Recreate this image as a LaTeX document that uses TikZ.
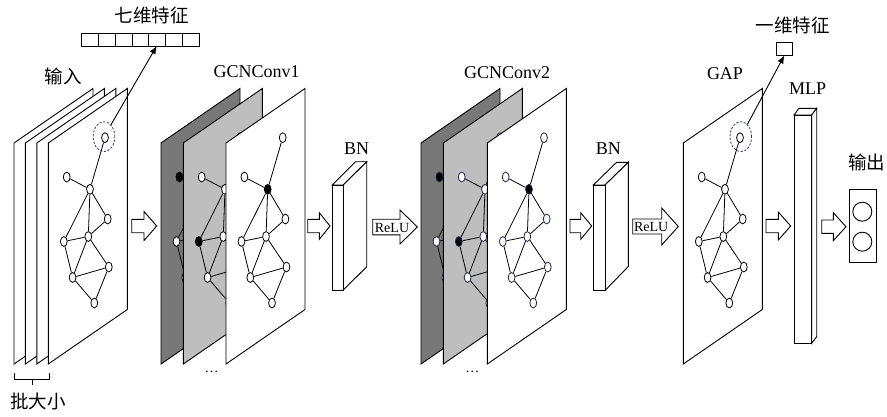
\documentclass[tikz,border=0pt]{standalone}
\usepackage{fontspec}
\setmainfont{Liberation Serif}
\newfontfamily\cjk{Noto Sans CJK SC}
\usetikzlibrary{shapes.geometric,arrows.meta}
\definecolor{darkpg}{RGB}{120,120,120}
\definecolor{lightpg}{RGB}{190,190,190}
\definecolor{navyc}{RGB}{55,55,110}
\definecolor{navyn}{RGB}{35,35,75}
\tikzset{
 pg/.style={draw=black,line width=0.9pt,line join=miter},
 gnode/.style={draw=black,fill=white,ellipse,minimum width=6.8pt,minimum height=9.8pt,inner sep=0pt,line width=0.8pt},
 gedge/.style={line width=0.8pt},
 hl/.code args={#1/#2}{\def\tmpa{#1}\def\tmpb{#2}\ifx\tmpa\tmpb\pgfkeysalso{fill=black}\fi},
 lbl/.style={font=\fontsize{18}{20}\selectfont,inner sep=0pt},
 cjklbl/.style={font=\fontsize{18.5}{20}\selectfont\cjk,inner sep=0pt},
 small/.style={font=\fontsize{14}{14}\selectfont,inner sep=0pt},
 barr/.style={draw=black,fill=white,line width=0.9pt,line join=miter},
 boxl/.style={draw=black,fill=white,line width=0.9pt,line join=miter},
 sel/.style={draw=navyc,dash pattern=on 2.2pt off 1.6pt,ellipse,minimum width=21.6pt,minimum height=30pt,inner sep=0pt,line width=0.8pt},
 cell/.style={draw,minimum width=16.76pt,minimum height=12.7pt,inner sep=0pt,line width=0.8pt},
 ptr/.style={line width=0.9pt,-{Latex[length=8pt,width=6.5pt]}},
}
\newcommand{\gpage}[2]{\path[pg,fill=#2] (#1,143) -- (#1+79,88.5) -- (#1+79,309.5) -- (#1,364) -- cycle;}
\newcommand{\ggraph}[4]{%
 \begin{scope}[shift={(#2,#3)}]
  \node[gnode,hl=a/#4] (#1a) at (56.7,-5.3) {};
  \node[gnode,hl=b/#4] (#1b) at (18.4,34) {};
  \node[gnode,hl=c/#4] (#1c) at (41.7,46.3) {};
  \node[gnode,hl=d/#4] (#1d) at (59.4,76) {};
  \node[gnode,hl=e/#4] (#1e) at (15.5,98.5) {};
  \node[gnode,hl=f/#4] (#1f) at (40,93.5) {};
  \node[gnode,hl=g/#4] (#1g) at (60.5,124) {};
  \node[gnode,hl=h/#4] (#1h) at (24.3,134.5) {};
  \node[gnode,hl=i/#4] (#1i) at (46,160) {};
  \draw[gedge] (#1a) -- (#1c) (#1b) -- (#1c) (#1c) -- (#1e) (#1c) -- (#1f) (#1c) -- (#1d)
   (#1d) -- (#1f) (#1e) -- (#1f) (#1e) -- (#1h) (#1f) -- (#1h) (#1f) -- (#1g)
   (#1h) -- (#1g) (#1h) -- (#1i) (#1g) -- (#1i);
 \end{scope}}
\newcommand{\barrow}[6]{\path[barr] (#1,#3-#4) -- (#6,#3-#4) -- (#6,#3-#5) -- (#2,#3) -- (#6,#3+#5) -- (#6,#3+#4) -- (#1,#3+#4) -- cycle;}
\begin{document}
\begin{tikzpicture}[x=1pt,y=-1pt]
\useasboundingbox (0,0) rectangle (887,416);
% ---------- input stack ----------
\gpage{14}{white}
\gpage{25.4}{white}
\gpage{36.8}{white}
\gpage{48.3}{white}
\ggraph{in}{48.3}{143}{x}
\node[sel] (sel1) at (104,136.7) {};
\node[cjklbl] (lin) at (63.5,76) {输入};
\foreach \i in {1,...,7} {\node[cell] (v\i) at (81.7+8.38+16.76*\i-16.76,39.65) {};}
\node[cjklbl] (l7) at (151.7,15) {七维特征};
\draw[ptr] (sel1) -- (156.7,46);
\draw[line width=0.8pt] (14,373) -- (14,379) -- (49.3,379) -- (49.3,373);
\draw[line width=0.8pt] (32,379) -- (32,385);
\node[cjklbl] (lbatch) at (38,401.5) {批大小};
% ---------- arrow 1 ----------
\barrow{131.7}{156.7}{226}{6.7}{14.5}{144}
% ---------- GCNConv1 ----------
\gpage{161}{darkpg}
\ggraph{ga}{161}{143}{b}
\gpage{183.3}{lightpg}
\ggraph{gb}{183.3}{143}{e}
\gpage{226}{white}
\ggraph{gc}{226}{143}{c}
\node[lbl] (lg1) at (256.7,71.7) {GCNConv1};
\node[small,anchor=base] (dots1) at (211.5,372) {\dots};
\barrow{307.7}{330}{226}{6.7}{13.3}{319.3}
% ---------- BN 1 ----------
\path[boxl] (332.3,185) -- (355.6,161.7) -- (366.7,161.7) -- (343.3,185) -- cycle;
\path[boxl] (343.3,185) -- (366.7,161.7) -- (366.7,266.7) -- (343.3,290) -- cycle;
\path[boxl] (332.3,185) rectangle (343.3,290);
\node[lbl] (lbn1) at (356.7,148.3) {BN};
\barrow{372.7}{417.3}{227}{7.8}{17}{400}
\node[small] (relu1) at (392,227.5) {ReLU};
% ---------- GCNConv2 ----------
\begin{scope}[gnode/.append style={draw=navyn}]
\gpage{421}{darkpg}
\ggraph{gd}{421}{143}{b}
\gpage{443.3}{lightpg}
\ggraph{ge}{443.3}{143}{e}
\gpage{487.3}{white}
\ggraph{gf}{487.3}{143}{c}
\end{scope}
\node[lbl] (lg2) at (507.2,72.7) {GCNConv2};
\node[small,anchor=base] (dots2) at (472.3,372) {\dots};
\barrow{570}{591.7}{226}{6.7}{13.3}{580.7}
% ---------- BN 2 ----------
\path[boxl] (593.3,185) -- (616.6,162.3) -- (628.3,162.3) -- (605,185) -- cycle;
\path[boxl] (605,185) -- (628.3,162.3) -- (628.3,266.5) -- (605,290.5) -- cycle;
\path[boxl] (593.3,185) rectangle (605,290.5);
\node[lbl] (lbn2) at (608.3,148.3) {BN};
\barrow{632.7}{678.3}{226.5}{7.5}{18.5}{661.7}
\node[small] (relu2) at (651.2,227) {ReLU};
% ---------- GAP ----------
\gpage{683.3}{white}
\ggraph{gp}{683.3}{143}{x}
\node[sel] (sel2) at (740.8,136.7) {};
\node[lbl] (lgap) at (725,74) {GAP};
\node[cell,minimum width=16.7pt,minimum height=12.3pt] (one) at (784.3,48.9) {};
\node[cjklbl] (l1) at (792.5,25) {一维特征};
\draw[ptr] (sel2) -- (one.south);
\barrow{766}{790.7}{226}{6.7}{14}{778.3}
% ---------- MLP ----------
\path[boxl] (794,115) -- (799,108.3) -- (816.7,108.3) -- (811.7,115) -- cycle;
\path[boxl] (811.7,115) -- (816.7,108.3) -- (816.7,336.6) -- (811.7,343.3) -- cycle;
\path[boxl] (794,115) rectangle (811.7,343.3);
\node[lbl] (lmlp) at (807.5,88.3) {MLP};
\barrow{821.7}{846}{226.7}{6.7}{14}{833.3}
% ---------- output ----------
\node[draw,line width=0.9pt,minimum width=27.7pt,minimum height=73.4pt,inner sep=0pt] (out) at (862.85,226) {};
\node[draw,circle,line width=0.9pt,minimum size=19pt,inner sep=0pt] (o1) at (862.3,211.7) {};
\node[draw,circle,line width=0.9pt,minimum size=19pt,inner sep=0pt] (o2) at (862.3,241.7) {};
\node[cjklbl] (lout) at (866.7,162.7) {输出};
\end{tikzpicture}
\end{document}
